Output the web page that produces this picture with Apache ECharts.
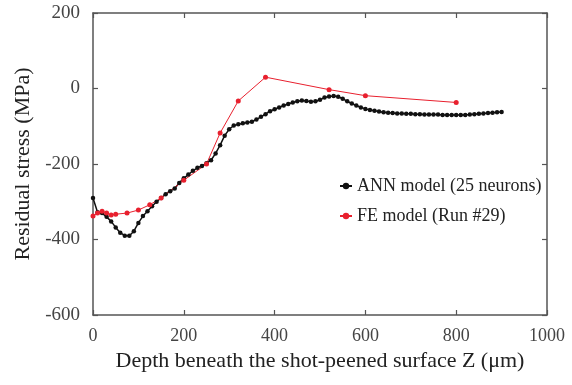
<!DOCTYPE html>
<html>
<head>
<meta charset="utf-8">
<script src="https://cdn.jsdelivr.net/npm/echarts@6/dist/echarts.min.js"></script>
<style>
  html, body { margin: 0; padding: 0; background: #fff; }
  #chart { width: 572px; height: 385px; }
</style>
</head>
<body>
<div id="chart"></div>
<script>
// ANN model, depth (um) and residual stress (MPa)
const annDepth = [0, 10, 20, 30, 40, 50, 60, 70, 80, 90, 100, 110, 120, 130, 140, 150, 160, 170, 180, 190,
  200, 210, 220, 230, 240, 250, 260, 270, 280, 290, 300, 310, 320, 330, 340, 350, 360, 370, 380, 390,
  400, 410, 420, 430, 440, 450, 460, 470, 480, 490, 500, 510, 520, 530, 540, 550, 560, 570, 580, 590,
  600, 610, 620, 630, 640, 650, 660, 670, 680, 690, 700, 710, 720, 730, 740, 750, 760, 770, 780, 790,
  800, 810, 820, 830, 840, 850, 860, 870, 880, 890, 900];
const annStress = [-290, -328, -330, -340, -352, -368, -382, -390, -390, -378, -356, -338, -325, -312, -300, -290, -280, -272, -265, -250,
  -238, -228, -218, -210, -205, -198, -190, -172, -150, -125, -108, -98, -95, -92, -90, -88, -82, -75, -68, -60,
  -55, -50, -45, -41, -37, -34, -32, -33, -35, -34, -30, -24, -21, -20, -22, -27, -34, -40, -45, -50,
  -54, -57, -59, -61, -63, -64, -65, -66, -66, -67, -67, -68, -68, -69, -69, -69, -69, -70, -70, -70,
  -70, -70, -70, -69, -68, -67, -66, -65, -64, -63, -62];

// FE model (Run #29)
const feDepth = [0, 10, 20, 30, 40, 50, 75, 100, 125, 150, 200, 250, 280, 320, 380, 520, 600, 800];
const feStress = [-338, -330, -325, -330, -335, -333, -330, -322, -308, -290, -243, -200, -118, -33, 30, -3, -19, -37];

const xTicks = [0, 1000, 200];
const yTicks = [-600, 200, 200];

const zip = (a, b) => a.map((v, i) => [v, b[i]]);

const chart = echarts.init(document.getElementById('chart'));
const serif = '"Liberation Serif", "DejaVu Serif", serif';
const axisLine = { onZero: false, lineStyle: { color: '#555', width: 1.5 } };
const tickIn = { inside: true, length: 5, lineStyle: { color: '#555', width: 1.2 } };

chart.setOption({
  animation: false,
  textStyle: { fontFamily: serif },
  grid: { left: 93, right: 25, top: 13, bottom: 70, outerBoundsMode: 'none', containLabel: false },
  legend: {
    orient: 'vertical',
    left: 334,
    top: 172,
    itemGap: 12,
    itemWidth: 12,
    itemHeight: 8,
    textStyle: { fontFamily: serif, fontSize: 18, color: '#222' },
    data: ['ANN model (25 neurons)', 'FE model (Run #29)']
  },
  xAxis: [
    {
      type: 'value', min: xTicks[0], max: xTicks[1], interval: xTicks[2],
      name: 'Depth beneath the shot-peened surface Z (\u03bcm)',
      nameLocation: 'middle', nameGap: 34,
      nameTextStyle: { fontFamily: serif, fontSize: 22, color: '#222' },
      axisLine: axisLine, axisTick: tickIn, splitLine: { show: false },
      axisLabel: { fontFamily: serif, fontSize: 18, color: '#444', margin: 12, formatter: v => String(v) }
    },
    {
      type: 'value', position: 'top', min: xTicks[0], max: xTicks[1], interval: xTicks[2],
      axisLine: axisLine, axisTick: tickIn, splitLine: { show: false },
      axisLabel: { show: false }
    }
  ],
  yAxis: [
    {
      type: 'value', min: yTicks[0], max: yTicks[1], interval: yTicks[2],
      name: 'Residual stress (MPa)',
      nameLocation: 'middle', nameGap: 58,
      nameTextStyle: { fontFamily: serif, fontSize: 22, color: '#222' },
      axisLine: axisLine, axisTick: tickIn, splitLine: { show: false },
      axisLabel: { fontFamily: serif, fontSize: 19, color: '#444', margin: 13, formatter: v => String(v) }
    },
    {
      type: 'value', position: 'right', min: yTicks[0], max: yTicks[1], interval: yTicks[2],
      axisLine: axisLine, axisTick: tickIn, splitLine: { show: false },
      axisLabel: { show: false }
    }
  ],
  series: [
    {
      name: 'ANN model (25 neurons)',
      type: 'line',
      data: zip(annDepth, annStress),
      symbol: 'circle',
      symbolSize: 4.5,
      lineStyle: { color: '#111', width: 1.5 },
      itemStyle: { color: '#111' }
    },
    {
      name: 'FE model (Run #29)',
      type: 'line',
      data: zip(feDepth, feStress),
      symbol: 'circle',
      symbolSize: 5,
      lineStyle: { color: '#e8202e', width: 1 },
      itemStyle: { color: '#e8202e' }
    }
  ]
});
</script>
</body>
</html>
